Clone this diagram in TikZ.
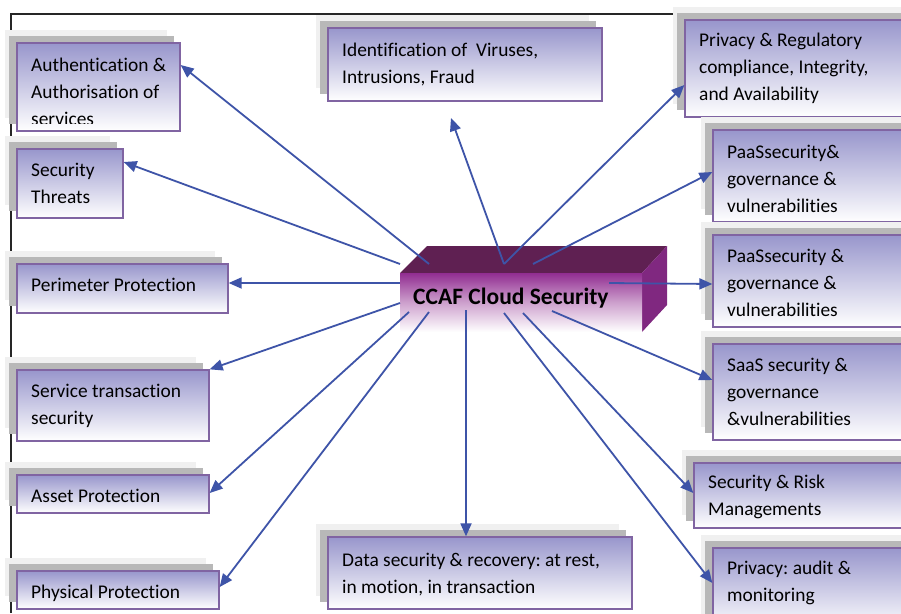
\documentclass[tikz,border=0pt]{standalone}
\usepackage{fontspec}
\setmainfont{Carlito}[Ligatures={NoCommon,NoContextual}]
\usetikzlibrary{arrows.meta,fit,calc}
\definecolor{boxtop}{RGB}{152,150,204}
\definecolor{boxline}{RGB}{128,100,162}
\definecolor{shdark}{RGB}{184,184,184}
\definecolor{shlight}{RGB}{240,240,240}
\definecolor{arrowblue}{RGB}{62,84,168}
\definecolor{cubetop}{RGB}{95,32,82}
\definecolor{cuberight}{RGB}{128,40,128}
\definecolor{cubefront}{RGB}{145,45,145}
\newcommand\mkbox[5]{%
  \fill[shlight] (#2-12,#3-13) rectangle (#4-13,#5-13);
  \fill[shdark] (#2-8,#3-7) rectangle (#4-6,#5-7);
  \node[infobox, fit={(#2,#3) (#4,#5)}] (#1) {};
}
\newcommand\fs{\rule{0pt}{14pt}}
\frenchspacing
\begin{document}
\begin{tikzpicture}[x=1pt,y=-1pt,
  infobox/.style={draw=boxline, line width=1.3pt, top color=boxtop, bottom color=white, inner sep=0pt},
  txt/.style={anchor=north west, inner sep=0pt, align=left, font=\frenchspacing\fontsize{19.4}{27}\selectfont, text=black},
  arr/.style={draw=arrowblue, line width=1.8pt, -{Triangle[length=13pt,width=11pt]}},
  frontface/.style={inner sep=0pt, top color=cubefront, bottom color=white, middle color=cubefront!45!white},
]
\clip (0,0) rectangle (901,613);
\fill[white] (0,0) rectangle (901,613);
% frame
\draw[line width=1.2pt, black!85] (11,613) -- (11,14) -- (680,14);

% boxes
\mkbox{auth}{17}{43}{180}{131}
\begin{scope}
\clip (17,43) rectangle (180,123);
\node[txt] (authT) at (31,71-14) {\fs Authentication \&\\Authorisation of\\services};
\end{scope}
\mkbox{thr}{17}{149}{123}{218}
\node[txt] (thrT) at (31,176-14) {\fs Security\\Threats};
\mkbox{per}{17}{264}{228}{313}
\node[txt] (perT) at (31,291-14) {\fs Perimeter Protection};
\mkbox{srv}{17}{370}{209}{441}
\node[txt] (srvT) at (31,397-14) {\fs Service transaction\\security};
\mkbox{ast}{17}{475}{209}{513}
\node[txt] (astT) at (31,502-14) {\fs Asset Protection};
\mkbox{phy}{17}{571}{219}{609}
\node[txt] (phyT) at (31,598-14) {\fs Physical Protection};
\mkbox{ident}{328}{28}{602}{101}
\node[txt] (identT) at (342,56-14) {\fs Identification of\ \ Viruses,\\Intrusions, Fraud};
\mkbox{dat}{328}{537}{632}{609}
\node[txt] (datT) at (342,566-14) {\fs Data security \& recovery: at rest,\\in motion, in transaction};
\mkbox{preg}{685}{20}{920}{117}
\node[txt] (pregT) at (699,46-14) {\fs Privacy \& Regulatory\\compliance, Integrity,\\and Availability};
\mkbox{paasa}{713}{130}{920}{222}
\node[txt] (paasaT) at (727,158-14) {\fs PaaSsecurity\&\\governance \&\\vulnerabilities};
\mkbox{paasb}{713}{235}{920}{327}
\node[txt] (paasbT) at (727,262-14) {\fs PaaSsecurity \&\\governance \&\\vulnerabilities};
\mkbox{saas}{713}{344}{920}{440}
\node[txt] (saasT) at (727,371-14) {\fs SaaS security \&\\governance\\\&vulnerabilities};
\mkbox{risk}{694}{463}{920}{528}
\node[txt] (riskT) at (708,488-14) {\fs Security \& Risk\\Managements};
\mkbox{paud}{713}{548}{920}{630}
\node[txt] (paudT) at (727,574-14) {\fs Privacy: audit \&\\monitoring};

% cuboid
\fill[cubetop] (400,273) -- (427,246) -- (667,246) -- (642,273) -- cycle;
\fill[cuberight] (642,273) -- (667,246) -- (667,305) -- (642,332) -- cycle;
\node[frontface, fit={(400,273) (642,332)}] (core) {};
\node[font=\bfseries\fontsize{23.5}{28}\selectfont, anchor=base west, inner sep=0pt] (coreT) at (413,304) {CCAF Cloud Security};

% start points
\coordinate (sauth) at (429,264);
\coordinate (sthr) at (400,264);
\coordinate (sper) at (400,283);
\coordinate (ssrv) at (400,303);
\coordinate (sast) at (409,312);
\coordinate (sphy) at (429,312);
\coordinate (sdat) at (466,310);
\coordinate (spaud) at (504,313);
\coordinate (srisk) at (523,313);
\coordinate (ssaas) at (552,311);
\coordinate (spaasb) at (609,283);
\coordinate (spaasa) at (533,264);
\coordinate (stop) at (504,264);
\coordinate (identEnd) at (451,118);

% connectors
\draw[arr] (sauth) -- (auth.east |- 0,65);
\draw[arr] (sthr) -- (thr.east |- 0,162);
\draw[arr] (sper) -- (per.east |- 0,283);
\draw[arr] (ssrv) -- (srv.north east);
\draw[arr] (sast) -- (ast.east |- 0,493);
\draw[arr] (sphy) -- (phy.east |- 0,587);
\draw[arr] (sdat) -- (dat.north -| 466,0);
\draw[arr] (spaud) -- (paud.west |- 0,583);
\draw[arr] (srisk) -- (risk.west |- 0,493);
\draw[arr] (ssaas) -- (saas.west |- 0,380);
\draw[arr] (spaasb) -- (paasb.west |- 0,284);
\draw[arr] (spaasa) -- (paasa.west |- 0,172);
\draw[arr] (stop) -- (preg.west |- 0,85);
\draw[arr] (stop) -- (identEnd);
\end{tikzpicture}
\end{document}
